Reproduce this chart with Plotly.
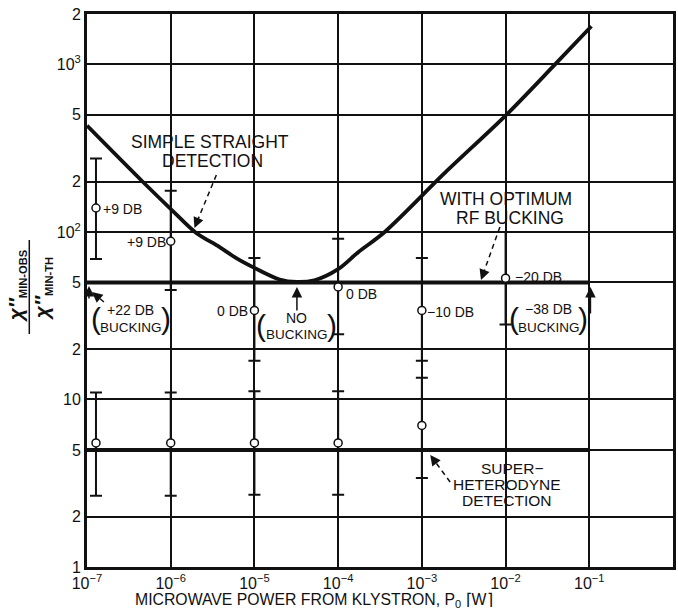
import math
import plotly.graph_objects as go

# ---------------- data ----------------
# Simple straight detection curve
curve_p = [1e-7, 4.6e-7, 1.1e-6, 2.0e-6, 3.8e-6, 6.0e-6, 1.0e-5, 2.0e-5, 3.2e-5, 5.2e-5,
           1.0e-4, 1.75e-4, 3.6e-4, 2.0e-3, 1.0e-2, 3.9e-2, 1.06e-1]
curve_v = [431, 200, 131, 99, 81.5, 70, 61, 52, 50.3, 51.5,
           60, 76, 100, 232, 495, 1000, 1690]

# With optimum RF bucking (horizontal line)
bucking_p = [1e-7, 1e-1]
bucking_v = [50, 50]

# Superheterodyne detection (horizontal line)
superhet_p = [1e-7, 1e-1]
superhet_v = [5, 5]

# Measured points with RF bucking (upper group)
meas_b_p = [1.28e-7, 1e-6, 1e-5, 1e-4, 1e-3, 1e-2]
meas_b_mid = [139, 88, 34, 47, 34, 53]
meas_b_hi = [274, 176, 70, 91, 70, 100]
meas_b_lo = [69, 45, 17, 24.5, 17, 28]

# Measured points superheterodyne (lower group)
meas_s_p = [1.28e-7, 1e-6, 1e-5, 1e-4, 1e-3]
meas_s_mid = [5.5, 5.5, 5.5, 5.5, 7.0]
meas_s_hi = [11, 11, 11.2, 11.2, 13.5]
meas_s_lo = [2.66, 2.66, 2.7, 2.7, 3.4]

x_tickvals = [1e-7, 1e-6, 1e-5, 1e-4, 1e-3, 1e-2, 1e-1]
x_ticktext = ["10<sup>−7</sup>", "10<sup>−6</sup>", "10<sup>−5</sup>", "10<sup>−4</sup>",
              "10<sup>−3</sup>", "10<sup>−2</sup>", "10<sup>−1</sup>"]
y_tickvals = [1, 2, 5, 10, 20, 50, 100, 200, 500, 1000, 2000]
y_ticktext = ["1", "2", "5", "10", "2", "5", "10<sup>2</sup>", "2", "5", "10<sup>3</sup>", "2"]

# ---------------- layout helpers ----------------
W, H = 678, 611
ML, MR, MT, MB = 87, 2, 14, 44
PW, PH = W - ML - MR, H - MT - MB
INK = "#111111"
FONT = "Liberation Sans, Arial, sans-serif"


def PX(x):
    return (x - ML) / PW


def PY(y):
    return (MT + PH - y) / PH


fig = go.Figure()

fig.add_trace(go.Scatter(x=curve_p, y=curve_v, mode="lines",
                         line=dict(color=INK, width=3.8, shape="spline", smoothing=0.9),
                         showlegend=False, hoverinfo="skip"))
fig.add_trace(go.Scatter(x=bucking_p, y=bucking_v, mode="lines",
                         line=dict(color=INK, width=4), showlegend=False))
fig.add_trace(go.Scatter(x=superhet_p, y=superhet_v, mode="lines",
                         line=dict(color=INK, width=4), showlegend=False))

for p, mid, hi, lo in [(meas_b_p, meas_b_mid, meas_b_hi, meas_b_lo),
                       (meas_s_p, meas_s_mid, meas_s_hi, meas_s_lo)]:
    fig.add_trace(go.Scatter(
        x=p, y=mid, mode="markers",
        marker=dict(symbol="circle", size=8, color="white",
                    line=dict(color=INK, width=1.5)),
        error_y=dict(type="data", symmetric=False,
                     array=[h - m for h, m in zip(hi, mid)],
                     arrayminus=[m - l for m, l in zip(mid, lo)],
                     color=INK, thickness=2, width=6),
        showlegend=False))

annotations = []


def txt(s, x, y, size=14, xanchor="center", **kw):
    annotations.append(dict(text=s, x=PX(x), y=PY(y), xref="paper", yref="paper",
                            showarrow=False, xanchor=xanchor, yanchor="middle",
                            borderpad=0,
                            font=dict(family=FONT, size=size, color=INK), **kw))


# curve labels
txt("SIMPLE STRAIGHT", 211, 142, 17.5)
txt("DETECTION", 213, 161, 17.5)
txt("WITH OPTIMUM", 508, 199, 17.5)
txt("RF BUCKING", 512, 218, 17.5)
txt("SUPER−", 514, 468, 15.5)
txt("HETERODYNE", 509, 484, 15.5)
txt("DETECTION", 509, 500, 15.5)

# dB labels
txt("+9 DB", 102, 209, 14, xanchor="left")
txt("+9 DB", 167, 242, 14, xanchor="right")
txt("0 DB", 250, 311, 14, xanchor="right")
txt("0 DB", 346, 294, 14, xanchor="left")
txt("−10 DB", 428, 312, 14, xanchor="left")
txt("−20 DB", 516, 277, 14, xanchor="left")

# bucking notes with parentheses
txt("+22 DB", 131, 310, 14)
txt("BUCKING", 131, 327, 13.5)
txt("(", 96, 318, 30)
txt(")", 166, 318, 30)
txt("NO", 298, 318, 14)
txt("BUCKING", 298, 334, 13.5)
txt("(", 262, 325, 30)
txt(")", 333, 325, 30)
txt("−38 DB", 551, 309, 14)
txt("BUCKING", 551, 327, 13.5)
txt("(", 516, 318, 30)
txt(")", 586, 318, 30)

# axis labels
txt("MICROWAVE POWER FROM KLYSTRON, P<sub>0</sub> ⌈W⌉", 134, 600, 15.8, xanchor="left")
txt("<b><i><span style='font-size:21px'>χ″</span></i><sub>MIN-OBS</sub></b>", 16, 286, 16,
    textangle=-90)
txt("<b><i><span style='font-size:21px'>χ″</span></i><sub>MIN-TH</sub></b>", 42, 289, 16,
    textangle=-90)


def arrow(x_tail, y_tail, x_head, y_head, dashed=False):
    if dashed:
        # dashed shaft plus a short solid arrowhead
        L = math.hypot(x_head - x_tail, y_head - y_tail)
        ux, uy = (x_head - x_tail) / L, (y_head - y_tail) / L
        fig.add_shape(type="line", xref="paper", yref="paper",
                      x0=PX(x_tail), y0=PY(y_tail), x1=PX(x_head - ux * 4), y1=PY(y_head - uy * 4),
                      line=dict(color=INK, width=1.5, dash="5px,4px"))
        annotations.append(dict(x=PX(x_head), y=PY(y_head), xref="paper", yref="paper",
                                ax=-ux * 9, ay=-uy * 9, text="", showarrow=True,
                                arrowhead=2, arrowsize=1.4, arrowwidth=1.5, arrowcolor=INK))
    else:
        annotations.append(dict(x=PX(x_head), y=PY(y_head), xref="paper", yref="paper",
                                ax=x_tail - x_head, ay=y_tail - y_head, text="", showarrow=True,
                                arrowhead=2, arrowsize=1.4, arrowwidth=1.5, arrowcolor=INK))


arrow(217, 175, 195, 228, dashed=True)
arrow(502, 227, 483, 280, dashed=True)
arrow(452, 482, 432, 455, dashed=True)
arrow(104, 302, 92, 292, dashed=True)
arrow(298, 312, 298, 287)
arrow(593, 315, 593, 287)
arrow(89, 300, 89, 286)

# fraction bar for y title
fig.add_shape(type="line", xref="paper", yref="paper",
              x0=PX(29), y0=PY(240), x1=PX(29), y1=PY(334),
              line=dict(color=INK, width=1.5))

axis_common = dict(type="log", showgrid=True, gridcolor=INK, gridwidth=1.5,
                   showline=True, linecolor=INK, linewidth=3, mirror=True,
                   ticks="", zeroline=False,
                   tickfont=dict(family=FONT, size=16, color=INK))

fig.update_layout(
    width=W, height=H,
    margin=dict(l=ML, r=MR, t=MT, b=MB),
    paper_bgcolor="white", plot_bgcolor="white",
    xaxis=dict(range=[-7, 0], tickmode="array", tickvals=x_tickvals, ticktext=x_ticktext,
               **axis_common),
    yaxis=dict(range=[0, math.log10(2000)], tickmode="array", tickvals=y_tickvals,
               ticktext=y_ticktext, **axis_common),
    annotations=annotations,
    showlegend=False,
)

fig.write_html("out.html")
